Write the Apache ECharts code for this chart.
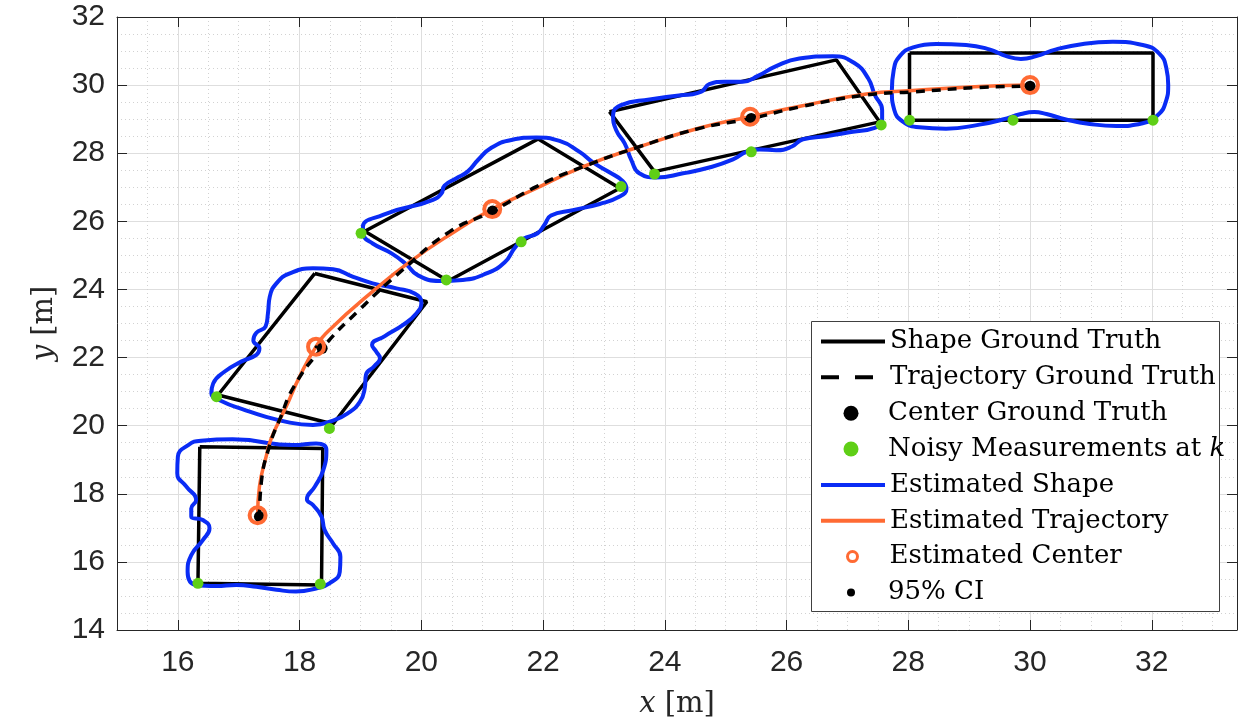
<!DOCTYPE html>
<html><head><meta charset="utf-8">
<script src="https://cdn.jsdelivr.net/npm/echarts@6/dist/echarts.min.js"></script>
<style>html,body{margin:0;padding:0;background:#fff}#c{width:1248px;height:723px}</style>
</head><body><div id="c"></div>
<script>
// Shape ground truth rectangles (corners)
const shapeGT1 = [[16.36,19.38],[18.38,19.33],[18.36,15.32],[16.33,15.37]];
const shapeGT2 = [[18.25,24.47],[20.09,23.64],[18.55,20.05],[16.66,20.90]];
const shapeGT3 = [[21.92,28.42],[23.26,26.97],[20.44,24.25],[19.07,25.71]];
const shapeGT4 = [[23.09,29.22],[26.82,30.74],[27.53,28.92],[23.83,27.46]];
const shapeGT5 = [[28.02,30.94],[32.02,30.94],[32.02,28.97],[28.02,28.97]];

// Trajectories
const trajGT = [[17.34,17.33],[17.375,18.40],[17.51,19.43],[17.67,20.17],[17.92,21.19],[18.37,22.27],[18.98,23.40],[19.69,24.57],[20.46,25.69],[21.17,26.30],[21.89,27.02],[22.65,27.60],[23.58,28.19],[24.57,28.73],[25.42,29.02],[26.22,29.36],[27.31,29.71],[28.07,29.80],[29.17,29.93],[30.0,29.97]];
const trajEst = [[17.31,17.37],[17.34,18.21],[17.45,19.09],[17.535,19.63],[17.78,20.56],[18.0,21.44],[18.27,22.32],[18.49,22.81],[19.26,24.03],[19.81,24.81],[20.46,25.60],[21.165,26.36],[21.83,26.92],[22.65,27.60],[23.58,28.19],[24.57,28.74],[25.40,29.07],[26.22,29.38],[27.31,29.74],[28.07,29.84],[29.17,29.96],[30.0,30.0]];

// Centers
const centerGT = [[17.34,17.33],[18.37,22.27],[21.17,26.30],[25.42,29.02],[30.0,29.97]];
const centerEst = [[17.31,17.37],[18.27,22.32],[21.165,26.36],[25.40,29.07],[30.0,30.0]];
const ciPts = [[17.31,17.37],[18.27,22.32],[21.165,26.36],[25.40,29.07],[30.0,30.0]];

// Noisy measurements
const measurements = [[16.33,15.37],[18.34,15.35],[16.635,20.85],[18.49,19.92],[19.01,25.65],[20.41,24.28],[21.64,25.40],[23.28,27.02],[23.83,27.39],[25.42,28.04],[27.555,28.83],[28.02,28.97],[29.72,28.97],[32.02,28.97]];

// Estimated shapes (closed contours)
const estShape1 = [[17.45,19.50],[17.89,19.43],[18.27,19.48],[18.44,19.29],[18.39,18.70],[18.25,18.21],[18.12,17.84],[18.22,17.67],[18.36,17.33],[18.41,16.94],[18.55,16.54],[18.67,16.15],[18.66,15.71],[18.49,15.37],[18.27,15.22],[17.94,15.13],[17.62,15.18],[17.29,15.27],[16.96,15.32],[16.63,15.29],[16.30,15.32],[16.16,15.71],[16.22,16.20],[16.41,16.64],[16.52,16.99],[16.41,17.23],[16.22,17.33],[16.22,17.57],[16.30,17.82],[16.14,18.21],[15.99,18.60],[16.00,19.09],[16.17,19.43],[16.38,19.56],[16.90,19.60]];
const estShape2 = [[17.84,20.09],[17.45,20.26],[17.07,20.48],[16.74,20.70],[16.55,20.95],[16.58,21.24],[16.77,21.59],[17.04,21.88],[17.29,22.08],[17.34,22.27],[17.24,22.50],[17.29,22.73],[17.44,22.91],[17.48,23.30],[17.51,23.79],[17.63,24.20],[17.84,24.47],[18.22,24.62],[18.55,24.59],[18.88,24.37],[19.20,24.18],[19.59,24.03],[19.89,23.88],[20.00,23.61],[19.91,23.28],[19.70,22.96],[19.40,22.63],[19.19,22.37],[19.26,22.17],[19.32,21.98],[19.23,21.75],[19.09,21.49],[19.07,21.10],[18.99,20.70],[18.79,20.36],[18.55,20.15],[18.22,20.02]];
const estShape3 = [[19.81,26.43],[20.19,26.63],[20.33,26.82],[20.38,27.05],[20.57,27.26],[20.76,27.46],[20.93,27.80],[21.15,28.16],[21.48,28.39],[21.89,28.46],[22.27,28.36],[22.60,28.04],[22.82,27.73],[23.09,27.44],[23.31,27.18],[23.37,26.95],[23.25,26.72],[22.93,26.51],[22.49,26.33],[22.13,26.17],[22.02,25.89],[21.91,25.65],[21.67,25.48],[21.53,25.21],[21.37,24.80],[21.07,24.47],[20.68,24.28],[20.30,24.25],[19.94,24.42],[19.75,24.74],[19.51,25.06],[19.20,25.35],[19.05,25.60],[19.04,25.84],[19.37,26.19]];
const estShape4 = [[24.30,29.71],[24.60,29.81],[24.73,30.03],[24.98,30.10],[25.28,30.10],[25.53,30.27],[25.83,30.56],[26.21,30.78],[26.76,30.85],[27.12,30.64],[27.34,30.20],[27.45,29.71],[27.57,29.27],[27.57,28.93],[27.42,28.73],[27.09,28.63],[26.65,28.50],[26.27,28.41],[26.08,28.19],[25.83,28.09],[25.56,28.11],[25.34,28.04],[25.12,27.82],[24.73,27.58],[24.30,27.41],[23.86,27.29],[23.58,27.41],[23.45,27.80],[23.34,28.29],[23.20,28.68],[23.15,29.12],[23.28,29.41],[23.75,29.58]];
const estShape5 = [[28.46,31.21],[28.95,31.18],[29.33,31.05],[29.61,30.85],[29.85,30.77],[30.10,30.85],[30.43,31.05],[30.87,31.21],[31.36,31.27],[31.85,31.18],[32.13,30.91],[32.24,30.49],[32.27,30.00],[32.23,29.51],[32.10,29.12],[31.85,28.88],[31.42,28.80],[30.98,28.86],[30.59,28.99],[30.27,29.15],[30.07,29.21],[29.85,29.15],[29.55,28.99],[29.17,28.84],[28.62,28.72],[28.18,28.76],[27.91,28.93],[27.77,29.27],[27.73,29.85],[27.76,30.44],[27.86,30.85],[28.08,31.11]];

const legendNames = ['Shape Ground Truth','Trajectory Ground Truth','Center Ground Truth','Noisy Measurements at k','Estimated Shape','Estimated Trajectory','Estimated Center','95% CI'];

const BLACK = '#000000', GREEN = '#5fcf16', BLUE = '#0a2cf5', ORANGE = '#ff6a33';
const close = a => a.concat([a[0]]);

const series = [];
[shapeGT1, shapeGT2, shapeGT3, shapeGT4, shapeGT5].forEach(r => series.push({
  name: legendNames[0], type: 'line', data: close(r), symbol: 'none',
  lineStyle: { color: BLACK, width: 3.5 }, itemStyle: { color: BLACK }, z: 2
}));
series.push({ name: legendNames[2], type: 'scatter', data: centerGT, symbolSize: 11,
  itemStyle: { color: BLACK, opacity: 1 }, z: 2 });
series.push({ name: legendNames[3], type: 'scatter', data: measurements, symbolSize: 11,
  itemStyle: { color: GREEN, opacity: 1 }, z: 2 });
[estShape1, estShape2, estShape3, estShape4, estShape5].forEach(e => series.push({
  name: legendNames[4], type: 'line', data: close(e), smooth: 0.5, symbol: 'none',
  lineStyle: { color: BLUE, width: 4 }, itemStyle: { color: BLUE }, z: 2
}));
series.push({ name: legendNames[5], type: 'line', data: trajEst, smooth: true, symbol: 'none',
  lineStyle: { color: ORANGE, width: 3.5 }, itemStyle: { color: ORANGE }, z: 2 });
series.push({ name: legendNames[1], type: 'line', data: trajGT, smooth: true, symbol: 'none',
  lineStyle: { color: BLACK, width: 3.5, type: [9, 7] }, itemStyle: { color: BLACK }, z: 3 });
series.push({ name: legendNames[6], type: 'scatter', data: centerEst, symbolSize: 16,
  itemStyle: { color: 'rgba(255,255,255,0)', borderColor: ORANGE, borderWidth: 4, opacity: 1 }, z: 4 });
series.push({ name: legendNames[7], type: 'scatter', data: ciPts, symbolSize: 3,
  itemStyle: { color: BLACK, opacity: 1 }, z: 4 });

const serif = 'DejaVu Serif';
const legendItemHeights = [15, 15, 15, 15, 15, 15, 10, 8];
const legendIsLine = [true, true, false, false, true, true, false, false];
const hideSymbol = { opacity: 0, color: 'rgba(0,0,0,0)', borderWidth: 0 };
const legendOverrides = [
  { lineStyle: { width: 4 }, itemStyle: hideSymbol },
  { lineStyle: { width: 4, type: [18, 16] }, itemStyle: hideSymbol },
  {}, {},
  { lineStyle: { width: 4 }, itemStyle: hideSymbol },
  { lineStyle: { width: 4 }, itemStyle: hideSymbol },
  { itemStyle: { borderWidth: 3 } },
  {}
];
const legends = legendNames.map((n, i) => ({
  data: [Object.assign({ name: n }, legendOverrides[i])],
  left: legendIsLine[i] ? 819 : 851 - legendItemHeights[i] / 2,
  top: 341.5 + i * 35.85 - 18,
  orient: 'vertical', itemWidth: 64, itemHeight: legendItemHeights[i],
  padding: 0, itemGap: 0, selectedMode: false, z: 20,
  formatter: name => name.replace(/ k$/, ' {i|k}'),
  textStyle: { fontFamily: serif, fontSize: 26, color: '#000', lineHeight: 36,
    rich: { i: { fontFamily: serif, fontSize: 26, fontStyle: 'italic', color: '#000', lineHeight: 36 } } }
}));

const axisCommon = {
  axisLine: { show: true, onZero: false, lineStyle: { color: '#262626', width: 1 } },
  axisTick: { show: true, inside: true, length: 10, lineStyle: { color: '#262626', width: 1 } }
};
const nameStyle = { fontFamily: serif, fontSize: 29, color: '#262626', lineHeight: 29,
  rich: { i: { fontFamily: serif, fontSize: 29, fontStyle: 'italic', color: '#262626', lineHeight: 29 } } };
const labelStyle = { fontFamily: 'Liberation Sans', fontSize: 30, color: '#262626' };
const majorGrid = { show: true, lineStyle: { color: '#dedede', width: 1 } };
const minorGrid = { show: true, lineStyle: { color: '#d2d2d2', width: 1, type: [1, 3] } };

const option = {
  animation: false,
  backgroundColor: '#ffffff',
  grid: { left: 117, right: 11, top: 17, bottom: 93, containLabel: false, outerBoundsMode: 'none' },
  xAxis: [
    Object.assign({}, axisCommon, {
      type: 'value', min: 15, max: 33.4, splitNumber: 9, position: 'bottom',
      axisLabel: Object.assign({ showMinLabel: false, showMaxLabel: false, margin: 18 }, labelStyle),
      splitLine: majorGrid, minorTick: { show: false, splitNumber: 4 }, minorSplitLine: minorGrid,
      name: '{i|x} [m]', nameLocation: 'middle', nameGap: 60, nameTextStyle: nameStyle
    }),
    Object.assign({}, axisCommon, {
      type: 'value', min: 15, max: 33.4, splitNumber: 9, position: 'top',
      axisLabel: { show: false }, splitLine: { show: false }
    })
  ],
  yAxis: [
    Object.assign({}, axisCommon, {
      type: 'value', min: 14, max: 32, interval: 2, position: 'left',
      axisLabel: Object.assign({ margin: 12 }, labelStyle),
      splitLine: majorGrid, minorTick: { show: false, splitNumber: 4 }, minorSplitLine: minorGrid,
      name: '{i|y} [m]', nameLocation: 'middle', nameGap: 58, nameTextStyle: nameStyle
    }),
    Object.assign({}, axisCommon, {
      type: 'value', min: 14, max: 32, interval: 2, position: 'right',
      axisLabel: { show: false }, splitLine: { show: false }
    })
  ],
  legend: legends,
  graphic: { elements: [{
    type: 'rect', z: 10, silent: true,
    shape: { x: 811.5, y: 321.5, width: 408, height: 290 },
    style: { fill: '#ffffff', stroke: '#404040', lineWidth: 1 }
  }] },
  series: series
};

const chart = echarts.init(document.getElementById('c'), null, { renderer: 'canvas' });
chart.setOption(option);
</script>
</body></html>
